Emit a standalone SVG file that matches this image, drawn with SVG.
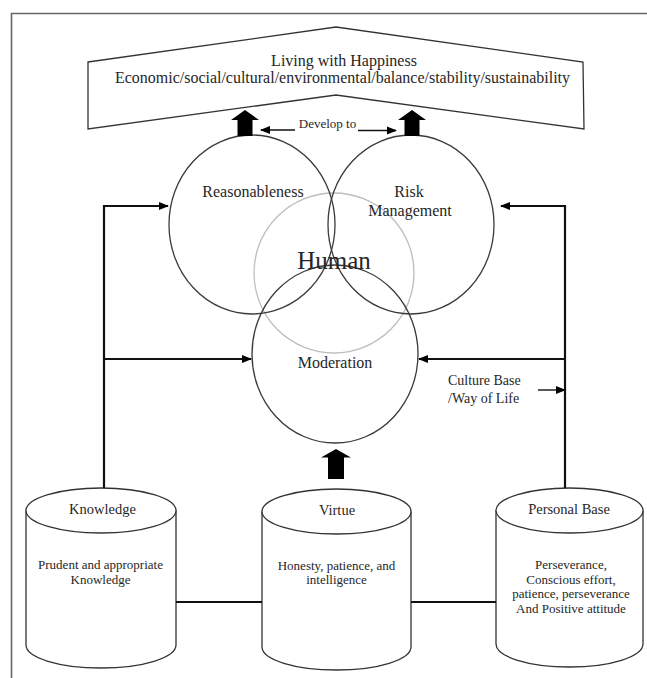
<svg xmlns="http://www.w3.org/2000/svg" width="647" height="678" viewBox="0 0 647 678">
<defs>
<style>
text{font-family:"Liberation Serif","Times New Roman",serif;fill:#262626;text-anchor:middle}
.lbl{font-size:16px}
.small{font-size:13px}
.cyl{font-size:14.5px}
.shape{fill:#fff;stroke:#333;stroke-width:1.3}
.ring{fill:none;stroke:#3a3a3a;stroke-width:1.3}
.conn{fill:none;stroke:#111;stroke-width:2.2}
.thin{fill:none;stroke:#111;stroke-width:1.4}
.block{fill:#000}
</style>
<marker id="ah" markerUnits="userSpaceOnUse" markerWidth="10" markerHeight="10" viewBox="0 0 10 10" refX="9" refY="5" orient="auto">
<path d="M0,1 L10,5 L0,9 Z" fill="#000"/>
</marker>
</defs>
<rect width="647" height="678" fill="#fff"/>
<path d="M11.5,678 V13.5 H647" fill="none" stroke="#666" stroke-width="1.6"/>

<g id="banner">
<polygon class="shape" points="88,62 336,27 583,62 584,129 336,95 88,129"/>
<text class="lbl" x="344" y="66">Living with Happiness</text>
<text class="lbl" x="342.5" y="83" textLength="455" lengthAdjust="spacingAndGlyphs">Economic/social/cultural/environmental/balance/stability/sustainability</text>
</g>

<g id="human">
<circle cx="334" cy="273" r="80" fill="none" stroke="#bdbdbd" stroke-width="1.3"/>
</g>
<g id="reasonableness">
<ellipse class="ring" cx="252" cy="224.5" rx="83" ry="89.5"/>
<text class="lbl" x="253" y="197">Reasonableness</text>
</g>
<g id="risk">
<ellipse class="ring" cx="411" cy="224.5" rx="83" ry="89.5"/>
<text class="lbl" x="409" y="197">Risk</text>
<text class="lbl" x="410" y="216">Management</text>
</g>
<g id="moderation">
<ellipse class="ring" cx="335" cy="354" rx="83" ry="89"/>
<text class="lbl" x="335" y="368">Moderation</text>
</g>
<g id="human-label">
<text x="334" y="269" style="font-size:25px">Human</text>
</g>

<g id="knowledge">
<path class="shape" d="M26,510.5 V645 A75,23 0 0 0 176,645 V510.5"/>
<ellipse class="shape" cx="101" cy="510.5" rx="75" ry="22.5"/>
<text class="cyl" x="102.5" y="514">Knowledge</text>
<text class="small" x="100.5" y="569">Prudent and appropriate</text>
<text class="small" x="100.5" y="584">Knowledge</text>
</g>
<g id="virtue">
<path class="shape" d="M262,511.5 V647 A74.5,23 0 0 0 411,647 V511.5"/>
<ellipse class="shape" cx="336.5" cy="511.5" rx="74.5" ry="22.5"/>
<text class="cyl" x="337" y="515">Virtue</text>
<text class="small" x="336.5" y="570">Honesty, patience, and</text>
<text class="small" x="336.5" y="584">intelligence</text>
</g>
<g id="personal">
<path class="shape" d="M496,510.5 V644 A73.5,23 0 0 0 643,644 V510.5"/>
<ellipse class="shape" cx="569.5" cy="510.5" rx="73.5" ry="22.5"/>
<text class="cyl" x="569" y="514">Personal Base</text>
<text class="small" x="571" y="569">Perseverance,</text>
<text class="small" x="571" y="583.5">Conscious effort,</text>
<text class="small" x="571" y="598">patience, perseverance</text>
<text class="small" x="571" y="612.5">And Positive attitude</text>
</g>

<g id="connectors">
<path class="conn" d="M104,488 V206 H168" marker-end="url(#ah)"/>
<path class="conn" d="M104,359 H251" marker-end="url(#ah)"/>
<path class="conn" d="M565,488 V206 H501" marker-end="url(#ah)"/>
<path class="conn" d="M565,359 H419" marker-end="url(#ah)"/>
<path class="thin" d="M538,390 H565" marker-end="url(#ah)"/>
<path class="thin" d="M295,130 H261" marker-end="url(#ah)"/>
<path class="thin" d="M358,130.5 H396" marker-end="url(#ah)"/>
<path class="conn" d="M176,602 H262"/>
<path class="conn" d="M411,602 H496"/>
<polygon class="block" points="245,110 259,120 252.5,120 252.5,136 237.5,136 237.5,120 231,120"/>
<polygon class="block" points="412,110 426,120 419.5,120 419.5,136 404.5,136 404.5,120 398,120"/>
<polygon class="block" points="336,449 351,457.5 344,457.5 344,479 328,479 328,457.5 321,457.5"/>
</g>

<text class="small" x="327.5" y="128" style="font-size:13px">Develop to</text>
<text x="448" y="385" style="font-size:14px;text-anchor:start">Culture Base</text>
<text x="448" y="403" style="font-size:14px;text-anchor:start">/Way of Life</text>
</svg>
